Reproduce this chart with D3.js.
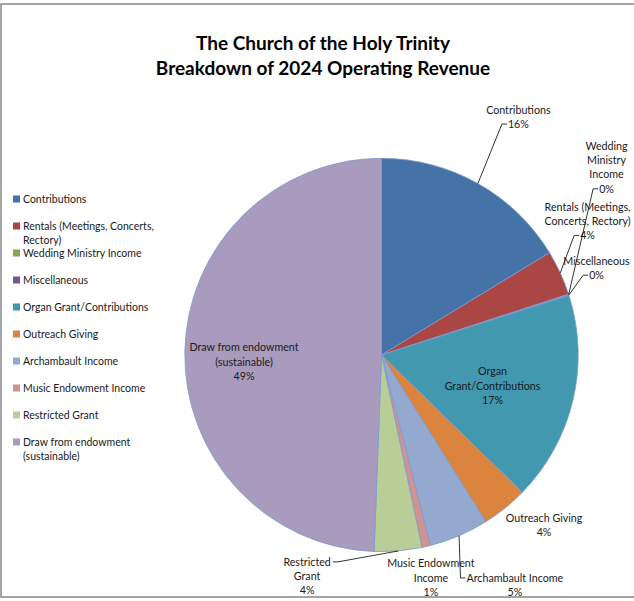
<!DOCTYPE html>
<html>
<head>
<meta charset="utf-8">
<script src="https://cdn.jsdelivr.net/npm/d3@7"></script>
<style>
  body { margin: 0; background: #fff; }
  text { font-family: Lato, "Open Sans", sans-serif; }
</style>
</head>
<body>
<div id="wrapper"></div>
<script>
// data (share of revenue, %)
const categories = [
  'Contributions', 'Rentals (Meetings, Concerts, Rectory)', 'Wedding Ministry Income',
  'Miscellaneous', 'Organ Grant/Contributions', 'Outreach Giving', 'Archambault Income',
  'Music Endowment Income', 'Restricted Grant', 'Draw from endowment (sustainable)'
]
const values = [16.3, 3.7, 0.05, 0.05, 17.2, 3.8, 4.9, 0.7, 3.9, 49.4]
const colors = ['#4572A7', '#AA4643', '#89A54E', '#71588F', '#4198AF',
                '#DB843D', '#93A9CF', '#D19392', '#B9CD96', '#A99BBD']
const legendLines = [
  ['Contributions'], ['Rentals (Meetings, Concerts,', 'Rectory)'], ['Wedding Ministry Income'],
  ['Miscellaneous'], ['Organ Grant/Contributions'], ['Outreach Giving'], ['Archambault Income'],
  ['Music Endowment Income'], ['Restricted Grant'], ['Draw from endowment', '(sustainable)']
]
const labelLines = [
  ['Contributions'], ['Rentals (Meetings,', 'Concerts, Rectory)'], ['Wedding', 'Ministry', 'Income'],
  ['Miscellaneous'], ['Organ', 'Grant/Contributions'], ['Outreach Giving'], ['Archambault Income'],
  ['Music Endowment', 'Income'], ['Restricted', 'Grant'], ['Draw from endowment', '(sustainable)']
]
const titleLines = ['The Church of the Holy Trinity', 'Breakdown of 2024 Operating Revenue']

// label placement: [angle in degrees from 12 o'clock, distance as share of radius, leader line]
const labelPlace = [
  [29.9, 1.396, true], [57.0, 1.249, true], [50.2, 1.489, true], [68.0, 1.179, true],
  [105.6, 0.586, false], [136.3, 1.196, false], [149.9, 1.352, true], [167.5, 1.161, false],
  [198.6, 1.186, true], [267.1, 0.70, false]
]

const dimensions = { width: 634, height: 601, cx: 381.5, cy: 355, radius: 196.7 }

const svg = d3.select('#wrapper').append('svg')
  .attr('width', dimensions.width)
  .attr('height', dimensions.height)

// chart frame
svg.append('rect')
  .attr('x', 1).attr('y', 4)
  .attr('width', 700).attr('height', 593)
  .attr('fill', '#fff')
  .attr('stroke', '#878787')
  .attr('stroke-width', 1.5)

// title
svg.append('g').selectAll('text')
  .data(titleLines)
  .join('text')
    .attr('x', 323)
    .attr('y', (d, i) => 50 + i * 25)
    .attr('text-anchor', 'middle')
    .attr('font-size', 19)
    .attr('font-weight', 'bold')
    .attr('fill', '#000')
    .text(d => d)

// pie
const total = d3.sum(values)
const pie = d3.pie().sort(null).value(d => d)(values)
const arc = d3.arc().innerRadius(0).outerRadius(dimensions.radius)

const bounds = svg.append('g')
  .attr('transform', `translate(${dimensions.cx},${dimensions.cy})`)

bounds.selectAll('path.slice')
  .data(pie)
  .join('path')
    .attr('class', 'slice')
    .attr('d', arc)
    .attr('fill', (d, i) => colors[i])
    .attr('stroke', '#7d9bcb')
    .attr('stroke-width', 0.8)

const polar = (a, r) => [r * Math.sin(a), -r * Math.cos(a)]
const lineH = 14.2

// data labels
pie.forEach((d, i) => {
  const [deg, rf, leader] = labelPlace[i]
  const [lx, ly] = polar(deg * Math.PI / 180, rf * dimensions.radius)
  const lines = labelLines[i].concat([Math.round(values[i] / total * 100) + '%'])
  const g = bounds.append('g')
  const texts = g.selectAll('text')
    .data(lines)
    .join('text')
      .attr('x', lx)
      .attr('y', (t, j) => ly + (j - (lines.length - 1) / 2) * lineH + 3.7)
      .attr('text-anchor', 'middle')
      .attr('font-size', 10.7)
      .attr('fill', '#1a1a1a')
      .text(t => t)

  if (!leader) return
  const mid = (d.startAngle + d.endAngle) / 2
  const [sx, sy] = polar(mid, dimensions.radius)
  const j = ly < sy ? lines.length - 1 : 0
  const w = texts.nodes()[j].getComputedTextLength()
  const ty = ly + (j - (lines.length - 1) / 2) * lineH
  const left = lx > sx
  const ex = left ? lx - w / 2 - 1 : lx + w / 2 + 2
  const bx = left ? ex - 5 : ex + 5
  g.insert('path', 'text')
    .attr('d', `M${sx},${sy}L${bx},${ty}L${ex},${ty}`)
    .attr('fill', 'none')
    .attr('stroke', '#000')
    .attr('stroke-width', 0.8)
})

// legend
let ly = 199
const legend = svg.append('g')
categories.forEach((c, i) => {
  legend.append('rect')
    .attr('x', 13).attr('y', ly - 3.5)
    .attr('width', 7).attr('height', 7)
    .attr('fill', colors[i])
  legendLines[i].forEach((t, j) => {
    legend.append('text')
      .attr('x', 23)
      .attr('y', ly + j * 14.5 + 3.7)
      .attr('font-size', 10.5)
      .attr('fill', '#1a1a1a')
      .text(t)
  })
  ly += 27
})
</script>
</body>
</html>
